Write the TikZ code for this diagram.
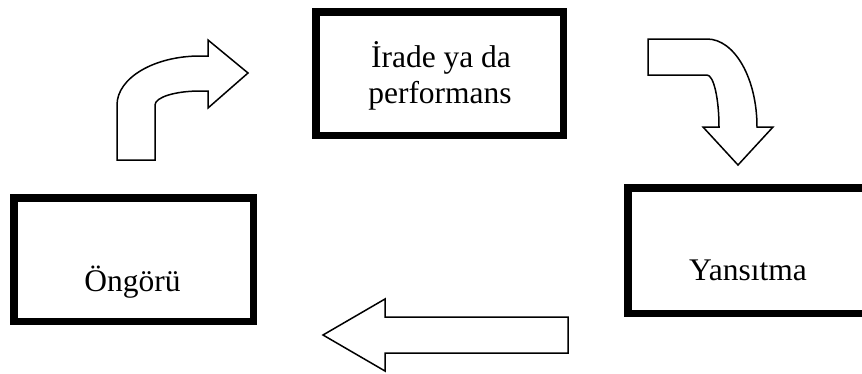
\documentclass[tikz,border=0pt]{standalone}
\usepackage{fontspec}
\setmainfont{Liberation Serif}
\begin{document}
\begin{tikzpicture}[x=1pt,y=-1pt,
  frame/.style={draw=black, line width=7.5pt, fill=white, inner sep=0pt, outer sep=0pt},
  caption/.style={font=\fontsize{31.5}{36}\selectfont, inner sep=0pt, anchor=base},
  blockarrow/.style={draw=black, line width=1.5pt, fill=white, line join=miter}]
\useasboundingbox (0,0) rectangle (862,373);

% the three stages
\node[frame, minimum width=247.5pt, minimum height=123.5pt] (will) at (439.5,73.5) {};
\node[frame, minimum width=239.5pt, minimum height=123.5pt] (foresight) at (133.5,259.5) {};
\node[frame, minimum width=258.5pt, minimum height=125.5pt] (reflection) at (757,250.5) {};

\node[caption] (willA) at (441,67) {İrade ya da};
\node[caption] (willB) at (440,103) {performans};
\node[caption] (foresightText) at (132.5,291) {Öngörü};
\node[caption] (reflectionText) at (748,280) {Yansıtma};

% bent arrow: foresight -> will
\draw[blockarrow] (117,160) -- (117,105)
  .. controls (117,77.9) and (154.2,56) .. (200,56)
  -- (208,56) -- (208,40) -- (248,73) -- (208,108) -- (208,91) -- (200,91)
  .. controls (175.1,91) and (155,97.3) .. (155,105)
  -- (155,160) -- cycle;

% bent arrow: will -> reflection
\draw[blockarrow] (648,39) -- (707,39)
  .. controls (734.6,39) and (757,78.4) .. (757,127)
  -- (773,127) -- (738,165) -- (703,127) -- (719,127)
  .. controls (719,98.3) and (713.6,75) .. (707,75)
  -- (648,75) -- cycle;

% straight arrow: reflection -> foresight
\draw[blockarrow] (568,317) -- (385,317) -- (385,299) -- (323,335)
  -- (385,371) -- (385,353) -- (568,353) -- cycle;
\end{tikzpicture}
\end{document}
